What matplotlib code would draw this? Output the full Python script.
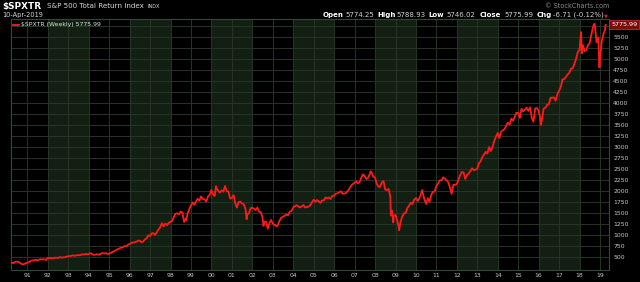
import datetime as dt
import pandas as pd
import matplotlib
matplotlib.use("Agg")
import matplotlib.pyplot as plt
import matplotlib.dates as mdates

plt.rcParams["font.family"] = ["DejaVu Sans"]

# ---------------- data ----------------
# month-end closes of $SPXTR, starting March 1990
monthly_start = "1990-03-31"
monthly_close = [
    368.8, 359.9, 394.4, 392.0, 391.1, 355.5, 338.2, 336.8, 358.3, 368.2,            # 1990 Mar-Dec
    384.5, 411.5, 421.7, 423.0, 440.5, 420.9, 440.9, 450.8, 443.4, 449.8, 431.1, 480.5,  # 1991
    472.2, 477.9, 468.3, 482.5, 484.4, 477.1, 497.2, 486.5, 491.8, 494.1, 510.3, 516.7,  # 1992
    521.7, 528.5, 539.3, 526.9, 540.2, 541.9, 540.0, 560.0, 555.7, 567.9, 561.6, 568.7,  # 1993
    588.5, 572.2, 547.4, 555.1, 563.3, 549.6, 568.3, 591.0, 576.5, 590.0, 568.0, 576.4,  # 1994
    591.8, 614.1, 632.4, 651.6, 676.4, 692.4, 716.1, 717.0, 747.5, 745.5, 777.3, 792.7,  # 1995
    819.8, 827.4, 835.3, 848.5, 869.2, 873.1, 834.4, 851.4, 899.7, 924.6, 994.7, 974.8,  # 1996
    1036.2, 1043.9, 1000.9, 1060.9, 1124.8, 1175.4, 1268.3, 1197.2, 1262.8, 1221.0, 1277.4, 1299.4,  # 1997
    1314.6, 1409.2, 1480.8, 1496.5, 1470.4, 1530.6, 1514.1, 1295.2, 1378.0, 1489.8, 1580.2, 1671.7,  # 1998
    1741.5, 1687.8, 1754.6, 1823.9, 1779.6, 1879.2, 1820.3, 1810.3, 1761.1, 1872.6, 1911.3, 2023.2,  # 1999
    1921.6, 1885.6, 2069.6, 2007.2, 1966.1, 2014.6, 1983.1, 2106.6, 1995.3, 1986.9, 1830.8, 1839.2,  # 2000
    1905.6, 1730.9, 1622.1, 1748.1, 1759.4, 1716.6, 1700.5, 1592.7, 1464.5, 1492.2, 1606.7, 1620.0,  # 2001
    1597.0, 1566.0, 1625.9, 1528.1, 1516.3, 1408.5, 1299.0, 1307.3, 1165.1, 1267.6, 1341.7, 1262.5,  # 2002
    1229.6, 1210.5, 1223.1, 1324.0, 1393.4, 1411.1, 1435.9, 1463.6, 1449.2, 1530.9, 1543.9, 1624.5,  # 2003
    1654.8, 1677.3, 1652.1, 1626.6, 1648.5, 1681.5, 1626.1, 1632.0, 1649.6, 1674.9, 1741.9, 1800.9,  # 2004
    1757.8, 1794.6, 1762.6, 1729.6, 1784.9, 1787.0, 1853.8, 1836.6, 1851.8, 1821.4, 1889.2, 1889.9,  # 2005
    1940.6, 1945.4, 1969.5, 1997.4, 1938.2, 1942.1, 1954.6, 1998.7, 2051.9, 2119.2, 2158.3, 2188.4,  # 2006
    2222.0, 2177.7, 2202.4, 2302.2, 2380.1, 2342.3, 2270.3, 2302.4, 2389.4, 2427.9, 2325.3, 2308.3,  # 2007
    2171.3, 2099.7, 2092.5, 2196.2, 2223.8, 2036.5, 2020.2, 2048.6, 1867.4, 1553.9, 1440.2, 1454.3,  # 2008
    1332.2, 1188.7, 1292.6, 1416.6, 1494.5, 1498.5, 1612.6, 1669.7, 1732.6, 1702.5, 1803.4, 1838.8,  # 2009
    1774.1, 1827.9, 1937.7, 1969.9, 1811.7, 1717.1, 1837.5, 1753.4, 1910.4, 1984.4, 1982.2, 2115.3,  # 2010
    2167.1, 2240.3, 2241.9, 2309.9, 2282.8, 2245.0, 2200.8, 2079.4, 1933.6, 2145.6, 2138.6, 2160.6,  # 2011
    2258.6, 2355.8, 2433.9, 2419.8, 2272.1, 2367.5, 2401.4, 2453.1, 2516.9, 2472.8, 2484.0, 2505.8,  # 2012
    2636.7, 2670.4, 2772.8, 2827.8, 2891.2, 2852.8, 2998.9, 2910.0, 3003.3, 3142.4, 3235.9, 3317.9,  # 2013
    3205.1, 3348.9, 3377.6, 3404.2, 3481.7, 3555.8, 3508.1, 3646.2, 3595.5, 3685.1, 3781.6, 3771.9,  # 2014
    3660.8, 3870.2, 3809.1, 3847.7, 3894.5, 3820.9, 3902.5, 3664.3, 3573.1, 3878.1, 3886.2, 3824.1,  # 2015
    3635.9, 3628.7, 3874.3, 3893.1, 3958.9, 3971.1, 4119.0, 4120.4, 4124.1, 4050.4, 4197.5, 4280.6,  # 2016
    4364.1, 4535.7, 4541.1, 4589.6, 4649.9, 4682.0, 4780.0, 4790.2, 4890.2, 5009.0, 5157.5, 5216.2,  # 2017
    5517.7, 5313.6, 5178.8, 5200.9, 5321.3, 5358.0, 5559.4, 5736.3, 5769.7, 5380.0, 5484.6, 4988.7,  # 2018
    5389.3, 5557.9, 5663.1,                                                           # 2019 Jan-Mar
]

# weekly swing highs / lows visible on the chart
swing_dates = ["1990-10-12", "1998-10-09", "2000-03-24", "2000-09-01", "2001-09-21",
               "2002-07-19", "2002-10-04", "2003-03-07", "2007-10-12", "2008-10-10",
               "2008-11-21", "2009-03-06", "2010-04-23", "2010-07-02", "2016-02-12",
               "2018-01-26", "2018-02-09", "2018-09-21", "2018-12-21"]
swing_values = [332.4, 1332.0, 2109.5, 2112.4, 1358.9,
                1208.1, 1145.7, 1194.4, 2447.3, 1442.3,
                1285.6, 1107.1, 2020.7, 1705.7, 3502.1,
                5613.6, 5129.2, 5800.8, 4809.0]

last_date = "2019-04-10"
last_value = 5775.99

y_ticks = list(range(500, 5501, 250))
year_ticks = list(range(1991, 2020))
year_labels = ["91", "92", "93", "94", "95", "96", "97", "98", "99", "00",
               "01", "02", "03", "04", "05", "06", "07", "08", "09", "10",
               "11", "12", "13", "14", "15", "16", "17", "18", "19"]

# ---------------- build series ----------------
m_dates = pd.date_range(monthly_start, periods=len(monthly_close), freq=pd.offsets.MonthEnd())
series = pd.concat([
    pd.Series(monthly_close, index=m_dates),
    pd.Series(swing_values, index=pd.to_datetime(swing_dates)),
    pd.Series([last_value], index=pd.to_datetime([last_date])),
]).sort_index()

# ---------------- figure ----------------
W, H = 640, 282
fig = plt.figure(figsize=(W / 100, H / 100), dpi=100, facecolor="black")


def px(x, y):
    return x / W, 1 - y / H


ax = fig.add_axes([11 / W, 12 / H, 598 / W, 251 / H], facecolor="black")

band = "#141f14"
grid_c = "#263626"
for y0 in range(1992, 2019, 4):
    ax.axvspan(dt.datetime(y0, 1, 1), dt.datetime(y0 + 2, 1, 1), color=band, lw=0, zorder=0)

ax.plot(series.index, series.values, color="#ff1a1a", lw=1.3, zorder=3)

ax.set_xlim(dt.datetime(1990, 3, 15), dt.datetime(2019, 6, 10))
ax.set_ylim(205, 5909)

ax.set_xticks([dt.datetime(y, 1, 1) for y in year_ticks])
ax.set_xticklabels(year_labels)
ax.set_yticks(y_ticks + [5750])
ax.set_yticklabels([str(v) for v in y_ticks] + [""])
ax.yaxis.tick_right()
ax.tick_params(axis="both", length=0, labelsize=4.4, colors="#c8c8c8")
ax.tick_params(axis="y", pad=3)
ax.tick_params(axis="x", pad=2.5)
ax.grid(True, color=grid_c, lw=0.7, zorder=1)
ax.set_axisbelow(True)
for s in ax.spines.values():
    s.set_color("#34483a")
    s.set_linewidth(0.8)

# ---------------- header texts ----------------
fig.text(*px(2, 6.5), "$SPXTR", color="white", fontsize=6.4, fontweight="bold", va="center")
fig.text(*px(47, 6.5), "S&P 500 Total Return Index", color="#d8d8d8", fontsize=5.1, va="center")
fig.text(*px(147, 6.8), "INDX", color="#d8d8d8", fontsize=3.6, va="center")
fig.text(*px(2, 15.5), "10-Apr-2019", color="#d8d8d8", fontsize=4.8, va="center")

fig.text(*px(545, 6), "\u00a9 StockCharts.com", color="#8c8c8c", fontsize=4.7, va="center")
row = [("Open", True, 322.7), ("5774.25", False, 345),
       ("High", True, 377.3), ("5788.93", False, 396),
       ("Low", True, 428.3), ("5746.02", False, 446.7),
       ("Close", True, 480), ("5775.99", False, 504.3),
       ("Chg", True, 536.7), ("-6.71 (-0.12%)", False, 553.3)]
for txt, bold, x in row:
    fig.text(*px(x, 15), txt, color="white" if bold else "#d0d0d0",
             fontsize=5.0, fontweight="bold" if bold else "normal", va="center")
fig.text(*px(606, 15.5), "\u25bc", color="#e02020", fontsize=3.5, va="center", ha="center")

# legend inside plot
fig.add_artist(plt.Line2D([13 / W, 19 / W], [1 - 24.5 / H] * 2, color="#ff1a1a", lw=1.3))
fig.text(*px(21, 24.5), "$SPXTR (Weekly) 5775.99", color="#e0e0e0", fontsize=4.4, va="center")

# last price box on the right axis
fig.text(*px(611, 24.5), "5775.99", color="white", fontsize=4.6, va="center",
         bbox=dict(facecolor="#7a0c0c", edgecolor="#c02828", lw=0.6, pad=1.2))

fig.savefig("out.png", dpi=100, facecolor="black")
